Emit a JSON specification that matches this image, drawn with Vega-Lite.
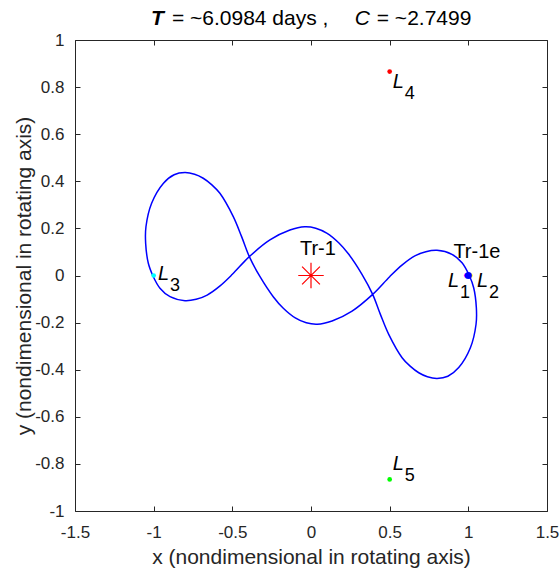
{
  "$schema": "https://vega.github.io/schema/vega-lite/v6.json",
  "width": 472,
  "height": 471,
  "autosize": {"type": "none"},
  "padding": {"left": 75, "top": 40, "right": 13, "bottom": 62},
  "background": "white",
  "config": {
    "view": {"stroke": null},
    "font": "Liberation Sans",
    "axis": {
      "grid": false,
      "domainColor": "#262626",
      "tickColor": "#262626",
      "labelColor": "#262626",
      "titleColor": "#262626",
      "labelFont": "Liberation Sans",
      "titleFont": "Liberation Sans",
      "labelFontSize": 17,
      "titleFontSize": 21,
      "titleFontWeight": "normal",
      "tickSize": -5,
      "labelFlush": false,
      "labelOverlap": false
    }
  },
  "datasets": {
    "orbit": [
      {"i": 1, "x": -1.006, "y": 0.0},
      {"i": 2, "x": -1.034, "y": 0.052},
      {"i": 3, "x": -1.051, "y": 0.137},
      {"i": 4, "x": -1.049, "y": 0.207},
      {"i": 5, "x": -1.013, "y": 0.307},
      {"i": 6, "x": -0.939, "y": 0.391},
      {"i": 7, "x": -0.87, "y": 0.428},
      {"i": 8, "x": -0.801, "y": 0.437},
      {"i": 9, "x": -0.74, "y": 0.43},
      {"i": 10, "x": -0.685, "y": 0.413},
      {"i": 11, "x": -0.63, "y": 0.385},
      {"i": 12, "x": -0.579, "y": 0.349},
      {"i": 13, "x": -0.494, "y": 0.25},
      {"i": 14, "x": -0.441, "y": 0.165},
      {"i": 15, "x": -0.392, "y": 0.08},
      {"i": 16, "x": -0.324, "y": -0.005},
      {"i": 17, "x": -0.24, "y": -0.09},
      {"i": 18, "x": -0.176, "y": -0.139},
      {"i": 19, "x": -0.1, "y": -0.18},
      {"i": 20, "x": -0.03, "y": -0.201},
      {"i": 21, "x": 0.04, "y": -0.207},
      {"i": 22, "x": 0.134, "y": -0.193},
      {"i": 23, "x": 0.261, "y": -0.151},
      {"i": 24, "x": 0.392, "y": -0.08},
      {"i": 25, "x": 0.5, "y": -0.005},
      {"i": 26, "x": 0.58, "y": 0.045},
      {"i": 27, "x": 0.66, "y": 0.083},
      {"i": 28, "x": 0.73, "y": 0.101},
      {"i": 29, "x": 0.801, "y": 0.107},
      {"i": 30, "x": 0.896, "y": 0.09},
      {"i": 31, "x": 0.96, "y": 0.054},
      {"i": 32, "x": 1.006, "y": 0.0},
      {"i": 33, "x": 1.034, "y": -0.052},
      {"i": 34, "x": 1.051, "y": -0.137},
      {"i": 35, "x": 1.049, "y": -0.207},
      {"i": 36, "x": 1.013, "y": -0.307},
      {"i": 37, "x": 0.939, "y": -0.391},
      {"i": 38, "x": 0.87, "y": -0.428},
      {"i": 39, "x": 0.801, "y": -0.437},
      {"i": 40, "x": 0.74, "y": -0.43},
      {"i": 41, "x": 0.685, "y": -0.413},
      {"i": 42, "x": 0.63, "y": -0.385},
      {"i": 43, "x": 0.579, "y": -0.349},
      {"i": 44, "x": 0.494, "y": -0.25},
      {"i": 45, "x": 0.441, "y": -0.165},
      {"i": 46, "x": 0.392, "y": -0.08},
      {"i": 47, "x": 0.324, "y": 0.005},
      {"i": 48, "x": 0.24, "y": 0.09},
      {"i": 49, "x": 0.176, "y": 0.139},
      {"i": 50, "x": 0.1, "y": 0.18},
      {"i": 51, "x": 0.03, "y": 0.201},
      {"i": 52, "x": -0.04, "y": 0.207},
      {"i": 53, "x": -0.134, "y": 0.193},
      {"i": 54, "x": -0.261, "y": 0.151},
      {"i": 55, "x": -0.392, "y": 0.08},
      {"i": 56, "x": -0.5, "y": 0.005},
      {"i": 57, "x": -0.58, "y": -0.045},
      {"i": 58, "x": -0.66, "y": -0.083},
      {"i": 59, "x": -0.73, "y": -0.101},
      {"i": 60, "x": -0.801, "y": -0.107},
      {"i": 61, "x": -0.896, "y": -0.09},
      {"i": 62, "x": -0.96, "y": -0.054},
      {"i": 63, "x": -1.006, "y": 0.0}
    ],
    "lpoints": [
      {"name": "L1", "x": 0.987, "y": 0.0},
      {"name": "L2", "x": 1.013, "y": 0.0},
      {"name": "L3", "x": -1.0, "y": 0.0},
      {"name": "L4", "x": 0.5, "y": 0.866},
      {"name": "L5", "x": 0.5, "y": -0.866}
    ],
    "planet": [{"name": "Tr-1e", "x": 1.0, "y": 0.0}],
    "star": [{"name": "Tr-1", "x": 0.0, "y": 0.0}],
    "llabels": [
      {"main": "L", "sub": "1", "x": 0.871, "y": -0.048},
      {"main": "L", "sub": "2", "x": 1.055, "y": -0.048},
      {"main": "L", "sub": "3", "x": -0.973, "y": -0.019},
      {"main": "L", "sub": "4", "x": 0.519, "y": 0.797},
      {"main": "L", "sub": "5", "x": 0.519, "y": -0.826}
    ],
    "bodylabels": [
      {"label": "Tr-1", "x": -0.07, "y": 0.087},
      {"label": "Tr-1e", "x": 0.905, "y": 0.075}
    ],
    "titleparts": [
      {"part": "T", "x": -0.935, "y": 1.064},
      {"part": "= ~6.0984 days ,", "x": -0.884, "y": 1.064},
      {"part": "C", "x": 0.375, "y": 1.064},
      {"part": "= ~2.7499", "x": 0.418, "y": 1.064}
    ]
  },
  "layer": [
    {
      "data": {"name": "orbit"},
      "mark": {"type": "line", "color": "#0000FF", "strokeWidth": 1.5, "interpolate": "catmull-rom"},
      "encoding": {
        "x": {
          "field": "x", "type": "quantitative",
          "scale": {"domain": [-1.5, 1.5], "nice": false, "zero": false},
          "axis": {
            "orient": "bottom",
            "values": [-1.5, -1, -0.5, 0, 0.5, 1, 1.5],
            "format": "~g",
            "labelExpr": "replace(datum.label, '\u2212', '-')",
            "labelPadding": 18,
            "title": "x (nondimensional in rotating axis)",
            "titlePadding": 6
          }
        },
        "y": {
          "field": "y", "type": "quantitative",
          "scale": {"domain": [-1, 1], "nice": false, "zero": false},
          "axis": {
            "orient": "left",
            "values": [-1, -0.8, -0.6, -0.4, -0.2, 0, 0.2, 0.4, 0.6, 0.8, 1],
            "format": "~g",
            "labelExpr": "replace(datum.label, '\u2212', '-')",
            "labelPadding": 16,
            "title": "y (nondimensional in rotating axis)",
            "titlePadding": 0
          }
        },
        "order": {"field": "i", "type": "quantitative"}
      }
    },
    {
      "data": {"name": "star"},
      "mark": {
        "type": "point",
        "shape": "M-1,0L1,0M0,-1L0,1M-0.7,-0.7L0.7,0.7M-0.7,0.7L0.7,-0.7",
        "filled": false,
        "stroke": "#FF0000",
        "strokeWidth": 1.2,
        "size": 650,
        "opacity": 1
      },
      "encoding": {
        "x": {
          "field": "x", "type": "quantitative",
          "scale": {"domain": [-1.5, 1.5], "nice": false, "zero": false},
          "axis": {"orient": "top", "values": [-1.5, -1, -0.5, 0, 0.5, 1, 1.5], "labels": false, "title": null}
        },
        "y": {
          "field": "y", "type": "quantitative",
          "scale": {"domain": [-1, 1], "nice": false, "zero": false},
          "axis": {"orient": "right", "values": [-1, -0.8, -0.6, -0.4, -0.2, 0, 0.2, 0.4, 0.6, 0.8, 1], "labels": false, "title": null}
        }
      }
    },
    {
      "data": {"name": "lpoints"},
      "mark": {"type": "point", "filled": true, "size": 22, "opacity": 1},
      "encoding": {
        "x": {"field": "x", "type": "quantitative", "axis": null},
        "y": {"field": "y", "type": "quantitative", "axis": null},
        "color": {
          "field": "name", "type": "nominal", "legend": null,
          "scale": {"domain": ["L1", "L2", "L3", "L4", "L5"], "range": ["#FF00FF", "#FFFF00", "#00FFFF", "#FF0000", "#00FF00"]}
        }
      }
    },
    {
      "data": {"name": "planet"},
      "mark": {"type": "point", "filled": true, "size": 50, "color": "#0000FF", "opacity": 1},
      "encoding": {
        "x": {"field": "x", "type": "quantitative", "axis": null},
        "y": {"field": "y", "type": "quantitative", "axis": null}
      }
    },
    {
      "data": {"name": "llabels"},
      "mark": {"type": "text", "align": "left", "baseline": "alphabetic", "fontSize": 20, "fontStyle": "italic", "color": "#000000"},
      "encoding": {
        "x": {"field": "x", "type": "quantitative", "axis": null},
        "y": {"field": "y", "type": "quantitative", "axis": null},
        "text": {"field": "main"}
      }
    },
    {
      "data": {"name": "llabels"},
      "mark": {"type": "text", "align": "left", "baseline": "alphabetic", "fontSize": 18, "dx": 12, "dy": 11, "color": "#000000"},
      "encoding": {
        "x": {"field": "x", "type": "quantitative", "axis": null},
        "y": {"field": "y", "type": "quantitative", "axis": null},
        "text": {"field": "sub"}
      }
    },
    {
      "data": {"name": "bodylabels"},
      "mark": {"type": "text", "align": "left", "baseline": "alphabetic", "fontSize": 20, "color": "#000000"},
      "encoding": {
        "x": {"field": "x", "type": "quantitative", "axis": null},
        "y": {"field": "y", "type": "quantitative", "axis": null},
        "text": {"field": "label"}
      }
    },
    {
      "data": {"name": "titleparts"},
      "transform": [{"filter": "datum.part == 'T'"}],
      "mark": {"type": "text", "align": "right", "baseline": "alphabetic", "fontSize": 21, "fontStyle": "italic", "fontWeight": "bold", "color": "#000000"},
      "encoding": {
        "x": {"field": "x", "type": "quantitative", "axis": null},
        "y": {"field": "y", "type": "quantitative", "axis": null},
        "text": {"field": "part"}
      }
    },
    {
      "data": {"name": "titleparts"},
      "transform": [{"filter": "datum.part == 'C'"}],
      "mark": {"type": "text", "align": "right", "baseline": "alphabetic", "fontSize": 21, "fontStyle": "italic", "color": "#000000"},
      "encoding": {
        "x": {"field": "x", "type": "quantitative", "axis": null},
        "y": {"field": "y", "type": "quantitative", "axis": null},
        "text": {"field": "part"}
      }
    },
    {
      "data": {"name": "titleparts"},
      "transform": [{"filter": "datum.part != 'T' && datum.part != 'C'"}],
      "mark": {"type": "text", "align": "left", "baseline": "alphabetic", "fontSize": 21, "color": "#000000"},
      "encoding": {
        "x": {"field": "x", "type": "quantitative", "axis": null},
        "y": {"field": "y", "type": "quantitative", "axis": null},
        "text": {"field": "part"}
      }
    }
  ],
  "resolve": {"axis": {"x": "independent", "y": "independent"}}
}
